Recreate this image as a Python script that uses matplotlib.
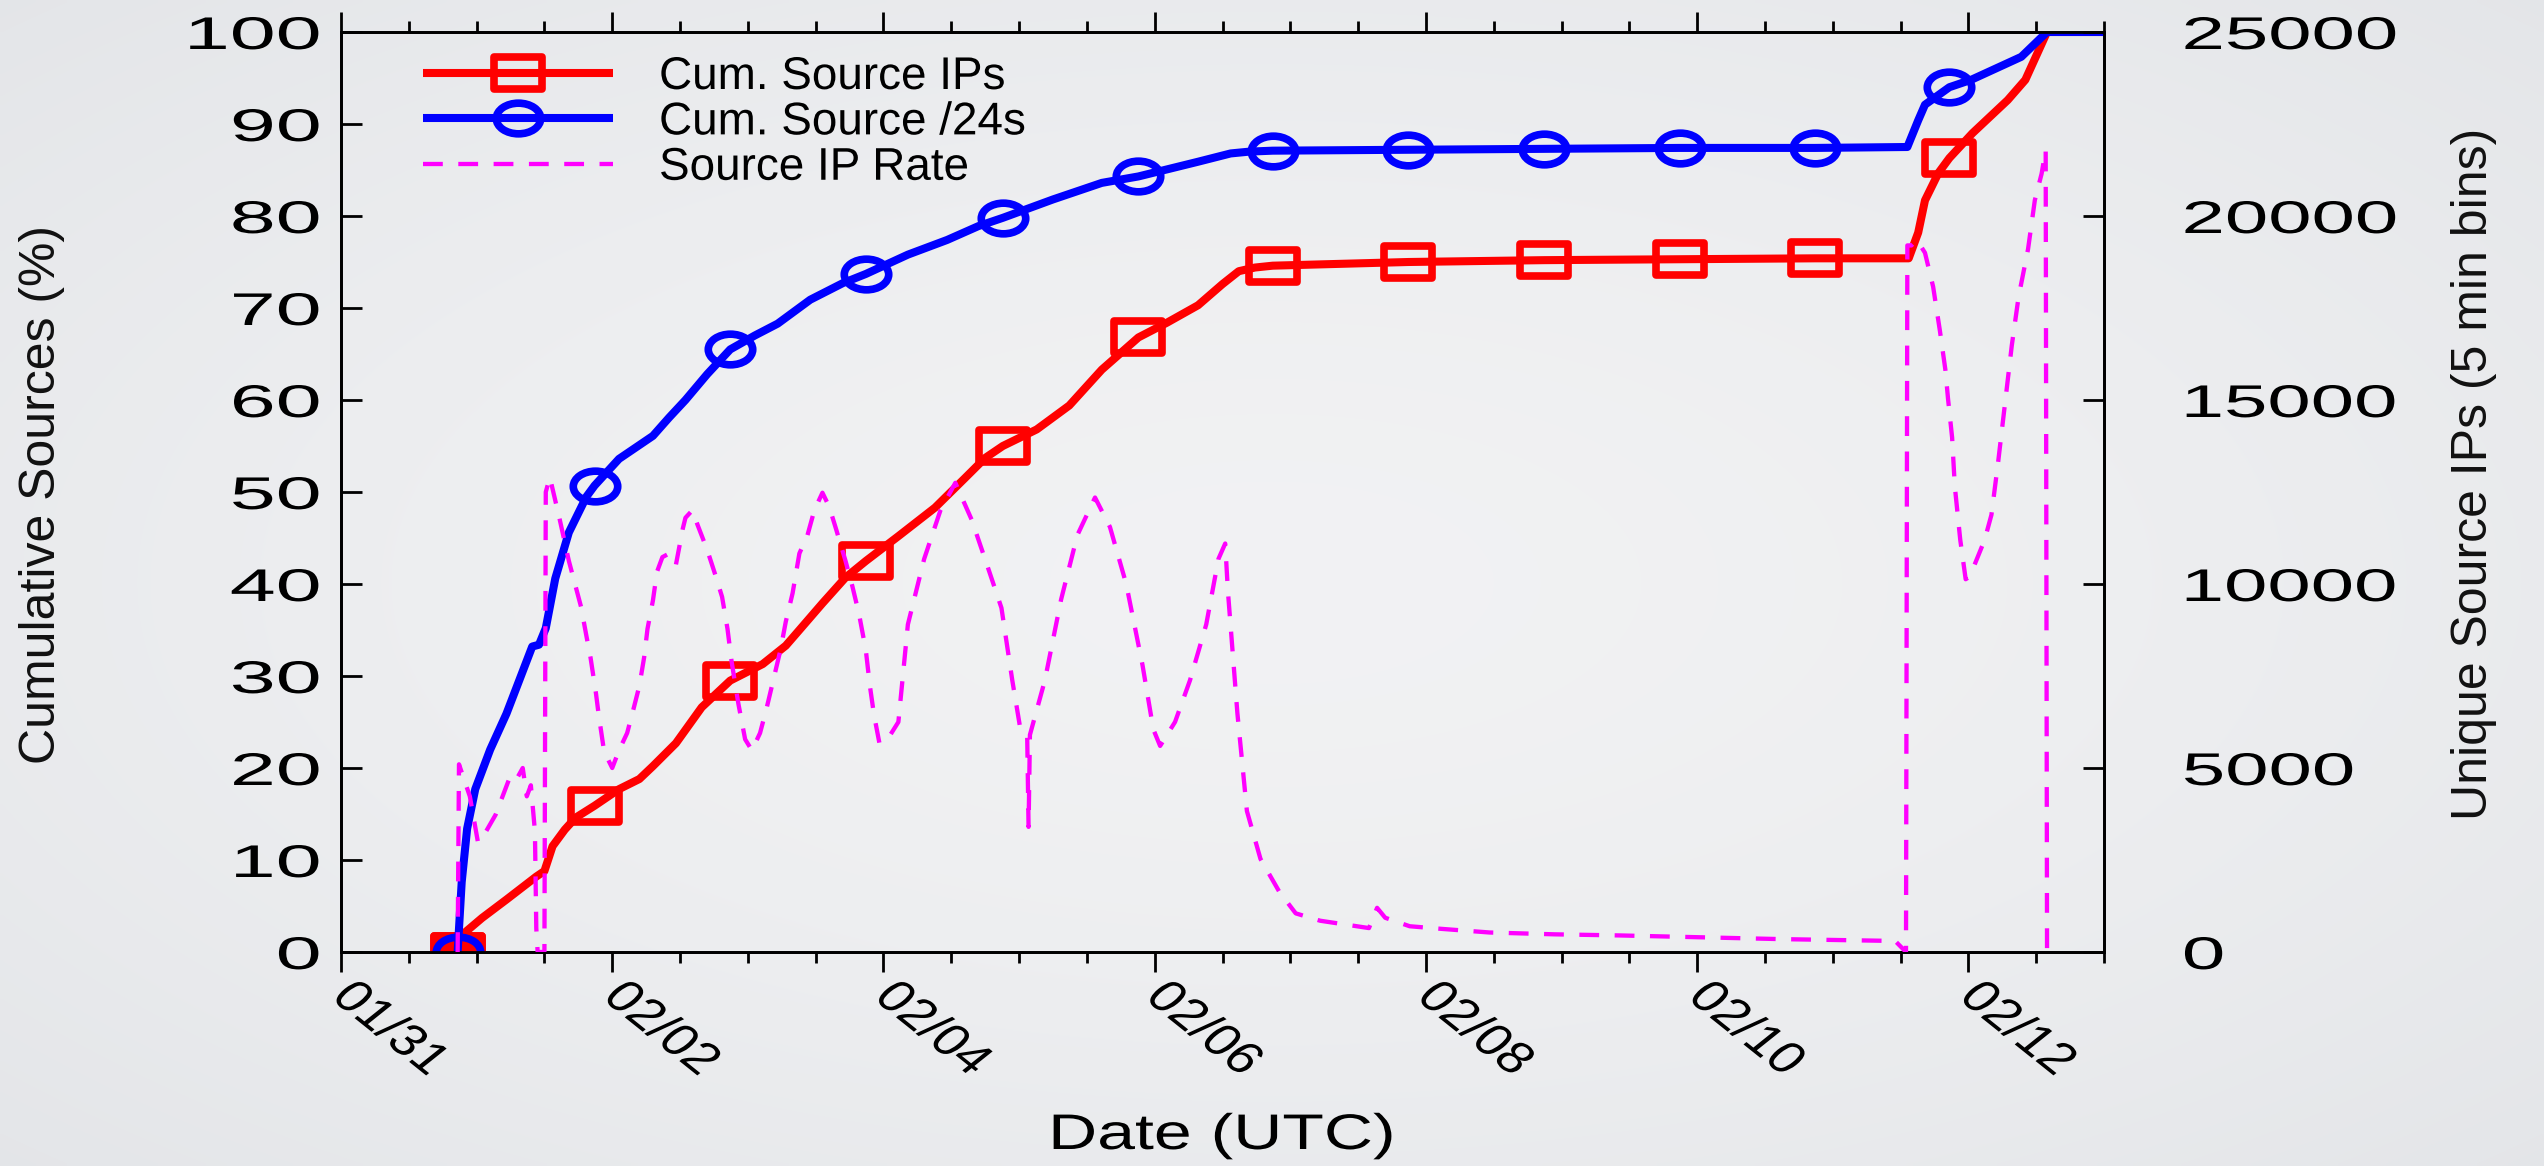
import numpy as np
import matplotlib
matplotlib.use("Agg")
import matplotlib.pyplot as plt
from matplotlib.path import Path
from matplotlib.transforms import Affine2D
from matplotlib.patheffects import AbstractPathEffect
from matplotlib.markers import MarkerStyle
from matplotlib.ticker import MultipleLocator

# ---------------- data (days since 01/31 00:00 UTC) ----------------
day_ticks = [0, 2, 4, 6, 8, 10, 12]
day_labels = ["01/31", "02/02", "02/04", "02/06", "02/08", "02/10", "02/12"]
pct_ticks = [0, 10, 20, 30, 40, 50, 60, 70, 80, 90, 100]
rate_ticks = [0, 5000, 10000, 15000, 20000, 25000]

mark_t = [0.86, 1.87, 2.87, 3.87, 4.88, 5.88, 6.87, 7.87, 8.87, 9.87, 10.87, 11.86]

red_t = [0.86, 0.88, 0.92, 1.04, 1.22, 1.44, 1.50, 1.56, 1.65, 1.73, 1.87, 2.05, 2.20,
         2.30, 2.47, 2.66, 2.87, 3.11, 3.28, 3.38, 3.55, 3.72, 3.87, 4.11, 4.38, 4.60,
         4.75, 4.88, 5.13, 5.37, 5.61, 5.88, 6.09, 6.32, 6.50, 6.62, 6.74, 6.87, 7.87,
         8.87, 9.87, 10.87, 11.56, 11.63, 11.68, 11.78, 11.86, 12.03, 12.29, 12.42,
         12.58, 13.0]
red_v = [0.0, 1.2, 2.2, 3.7, 5.7, 8.2, 8.8, 11.5, 13.3, 14.6, 15.9, 17.7, 18.8,
         20.2, 22.7, 26.6, 29.5, 31.3, 33.3, 35.0, 37.9, 40.7, 42.5, 45.2, 48.3, 51.5,
         53.7, 55.0, 56.8, 59.4, 63.3, 66.8, 68.4, 70.3, 72.6, 74.0, 74.4, 74.6, 75.0,
         75.2, 75.3, 75.4, 75.4, 78.2, 81.7, 84.7, 86.3, 89.0, 92.6, 94.8,
         100.0, 100.0]

blue_t = [0.86, 0.89, 0.93, 0.99, 1.10, 1.22, 1.41, 1.46, 1.51, 1.58, 1.68, 1.81, 1.87,
          2.05, 2.30, 2.42, 2.54, 2.70, 2.87, 3.05, 3.22, 3.46, 3.70, 3.87, 4.18, 4.47,
          4.70, 4.88, 5.25, 5.61, 5.88, 6.32, 6.56, 6.70, 6.87, 7.87, 8.87, 9.87, 10.87,
          11.55, 11.63, 11.68, 11.86, 12.02, 12.39, 12.58, 13.0]
blue_v = [0.0, 7.6, 13.4, 17.7, 22.0, 25.9, 33.2, 33.4, 35.2, 40.6, 45.6, 49.5, 50.7,
          53.6, 56.1, 58.1, 60.0, 62.8, 65.5, 67.0, 68.3, 70.9, 72.7, 73.7, 75.8, 77.4,
          78.9, 79.8, 81.8, 83.6, 84.3, 85.9, 86.8, 87.0, 87.1, 87.2, 87.3, 87.4, 87.4,
          87.5, 90.4, 92.1, 94.0, 94.8, 97.3, 100.0, 100.0]

rate_t = [0.86, 0.87, 0.95, 1.01, 1.07, 1.14, 1.24, 1.28, 1.34, 1.37, 1.40, 1.43, 1.44,
          1.45, 1.50, 1.51, 1.54, 1.61, 1.68, 1.77, 1.81, 1.84, 1.88, 1.90, 1.94, 2.00,
          2.05, 2.11, 2.16, 2.20, 2.235, 2.26, 2.30, 2.33, 2.37, 2.42, 2.47, 2.52, 2.54,
          2.59, 2.63, 2.70, 2.76, 2.81, 2.85, 2.88, 2.93, 2.98, 3.03, 3.09, 3.14, 3.19,
          3.24, 3.28, 3.33, 3.38, 3.44, 3.49, 3.55, 3.60, 3.65, 3.72, 3.77, 3.82, 3.87,
          3.90, 3.93, 3.97, 4.03, 4.11, 4.18, 4.30, 4.42, 4.53, 4.65, 4.77, 4.87, 4.95,
          5.01, 5.06, 5.07, 5.08, 5.19, 5.31, 5.43, 5.56, 5.67, 5.79, 5.91, 5.99, 6.04,
          6.15, 6.26, 6.38, 6.47, 6.52, 6.54, 6.61, 6.68, 6.78, 6.92, 7.04, 7.22, 7.40,
          7.58, 7.64, 7.70, 7.88, 8.11, 8.47, 8.95, 9.43, 10.02, 10.62, 11.46, 11.54,
          11.55, 11.58, 11.62, 11.68, 11.74, 11.79, 11.83, 11.85, 11.88, 11.90, 11.94,
          11.98, 12.01, 12.12, 12.17, 12.22, 12.27, 12.32, 12.37, 12.44, 12.49, 12.54,
          12.57, 12.58, 12.65]
rate_v = [0, 5100, 4230, 2980, 3280, 3730, 4700, 4600, 5000, 4230, 4530, 3280, 650,
          0, 0, 12500, 12900, 11800, 10630, 9380, 8580, 8000, 7030, 6450, 5450, 5000,
          5480, 5950, 6650, 7230, 8000, 8780, 9550, 10330, 10730, 10830, 10530, 11500, 11800,
          12000, 11600, 10930, 10250, 9650, 8780, 7900, 6750, 5780, 5480, 5950, 6650, 7430,
          8200, 8980, 9750, 10830, 11330, 12000, 12480, 12100, 11500, 10630, 9950, 9180, 8200,
          7230, 6450, 5680, 5780, 6250, 8900, 10680, 12000, 12750, 11750, 10450, 9350, 7380,
          6050, 5830, 3400, 5900, 7380, 9580, 11330, 12350, 11550, 10000, 7800, 6050, 5600,
          6250, 7380, 8900, 10680, 11100, 9800, 6480, 3830, 2530, 1630, 1050, 850, 750,
          650, 1200, 930, 700, 630, 530, 480, 450, 400, 350, 300, 0,
          19200, 19200, 19350, 19000, 18080, 16880, 15830, 15030, 13980, 12650, 11200,
          10130, 10200, 11200, 11880, 13330, 14900, 16480, 17800, 19100, 20430, 21150,
          21800, 0, 0]

series_labels = ["Cum. Source IPs", "Cum. Source /24s", "Source IP Rate"]


# ---------------- helpers ----------------
class Stretch(AbstractPathEffect):
    """Scale rendered text in display space about an anchor point."""
    def __init__(self, sx=1.0, sy=1.0, anchor="center"):
        super().__init__()
        self.sx, self.sy, self.anchor = sx, sy, anchor

    def draw_path(self, renderer, gc, tpath, affine, rgbFace=None):
        ext = tpath.get_extents()
        axl = {"left": ext.x0, "center": 0.5 * (ext.x0 + ext.x1), "right": ext.x1}[self.anchor]
        ayl = 0.5 * (ext.y0 + ext.y1)
        px, py = affine.transform((axl, ayl))
        t = affine + Affine2D().translate(-px, -py).scale(self.sx, self.sy).translate(px, py)
        renderer.draw_path(gc, tpath, t, rgbFace)


W, H = 2544, 1166
DPI = 100
fig = plt.figure(figsize=(W / DPI, H / DPI), dpi=DPI)

# background gradient
bg = fig.add_axes([0, 0, 1, 1], zorder=-5)
bg.axis("off")
yy, xx = np.mgrid[0:1:240j, 0:1:520j]
r = np.sqrt(((xx - 0.5) / 0.5) ** 2 + ((yy - 0.5) / 0.5) ** 2) / np.sqrt(2)
c0 = np.array([0.947, 0.949, 0.955])
c1 = np.array([0.893, 0.900, 0.912])
img = c0 + (c1 - c0) * (r[..., None] ** 1.6)
bg.imshow(img, extent=[0, 1, 0, 1], aspect="auto", interpolation="bilinear")
bg.set_xlim(0, 1)
bg.set_ylim(0, 1)

L, R, T, B = 341, 2104, 32, 952
ax = fig.add_axes([L / W, 1 - B / H, (R - L) / W, (B - T) / H], zorder=1)
ax.patch.set_alpha(0)
ax2 = ax.twinx()
ax2.patch.set_alpha(0)

FONT = "Liberation Sans"

# custom (horizontally elongated) markers
sq = Path([(-1.45, -1), (1.45, -1), (1.45, 1), (-1.45, 1), (-1.45, -1)],
          [Path.MOVETO, Path.LINETO, Path.LINETO, Path.LINETO, Path.CLOSEPOLY])
ell = Path.unit_circle().transformed(Affine2D().scale(1.45, 1.0))

red_idx = [red_t.index(t) for t in mark_t]
blue_idx = [blue_t.index(t) for t in mark_t]

lw_main = 5.8
(red_line,) = ax.plot(red_t, red_v, color="#ff0000", lw=lw_main, marker=MarkerStyle(sq),
                      markersize=34, markeredgewidth=5.5, markerfacecolor="none",
                      markevery=red_idx, solid_joinstyle="round", solid_capstyle="butt",
                      zorder=3)
ax.plot(red_t[:1], red_v[:1], linestyle="none", marker=MarkerStyle(sq), markersize=34,
        markeredgewidth=5.5, color="#ff0000", markerfacecolor="#ff0000", zorder=3)
(blue_line,) = ax.plot(blue_t, blue_v, color="#0000ff", lw=lw_main, marker=MarkerStyle(ell),
                       markersize=32, markeredgewidth=5.5, markerfacecolor="none",
                       markevery=blue_idx, solid_joinstyle="round", solid_capstyle="butt",
                       zorder=4)
(rate_line,) = ax2.plot(rate_t, rate_v, color="#ff00ff", lw=3.1, linestyle=(0, (4.6, 3.6)),
                        zorder=5)

# axes ranges & ticks
ax.set_xlim(0, 13)
ax.set_ylim(0, 100)
ax2.set_ylim(0, 25000)
ax.set_xticks(day_ticks)
ax.set_xticklabels(day_labels)
ax.xaxis.set_minor_locator(MultipleLocator(0.5))
ax.set_yticks(pct_ticks)
ax.set_yticklabels([str(v) for v in pct_ticks])
ax2.set_yticks(rate_ticks)
ax2.set_yticklabels([str(v) for v in rate_ticks])

for a in (ax, ax2):
    for s in a.spines.values():
        s.set_linewidth(2.0)
        s.set_color("black")

ax.tick_params(axis="x", which="major", direction="out", length=14.5, width=2.0,
               top=True, pad=13, labelsize=32)
ax.tick_params(axis="x", which="minor", direction="out", length=8, width=2.0, top=True)
ax.tick_params(axis="y", which="major", direction="in", length=15, width=2.0,
               right=False, pad=15, labelsize=33)
ax2.tick_params(axis="y", which="major", direction="in", length=15, width=2.0,
                pad=57, labelsize=33)

for lab in ax.get_xticklabels():
    lab.set_family(FONT)
    lab.set_rotation(-45)
    lab.set_rotation_mode("anchor")
    lab.set_ha("left")
    lab.set_va("center")
    lab.set_path_effects([Stretch(1.25, 1.0, "left")])
for lab in ax.get_yticklabels():
    lab.set_family(FONT)
    lab.set_path_effects([Stretch(1.8, 1.0, "right")])
for lab in ax2.get_yticklabels():
    lab.set_family(FONT)
    lab.set_path_effects([Stretch(1.7, 1.0, "left")])

# axis titles
fig.text(42 / W, 1 - 495 / H, "Cumulative Sources (%)", rotation=90, ha="center",
         va="center", fontsize=36, family=FONT, color="#111111")
fig.text(2474 / W, 1 - 474 / H, "Unique Source IPs (5 min bins)", rotation=90,
         ha="center", va="center", fontsize=36, family=FONT, color="#111111")
xl = fig.text(1222 / W, 1 - 1136 / H, "Date (UTC)", ha="center", va="center",
              fontsize=36, family=FONT)
xl.set_path_effects([Stretch(1.36, 1.0, "center")])

# legend
leg = ax2.legend([red_line, blue_line, rate_line], series_labels, loc="upper left",
                 bbox_to_anchor=(423 / W, 1 - 55 / H), bbox_transform=fig.transFigure,
                 frameon=False, borderpad=0, borderaxespad=0, handlelength=4.15,
                 handletextpad=1.0, labelspacing=0.03, numpoints=1,
                 prop={"family": FONT, "size": 33})
for t in leg.get_texts():
    t.set_path_effects([Stretch(1.0, 1.0, "left")])

fig.savefig("out.png", dpi=DPI)
